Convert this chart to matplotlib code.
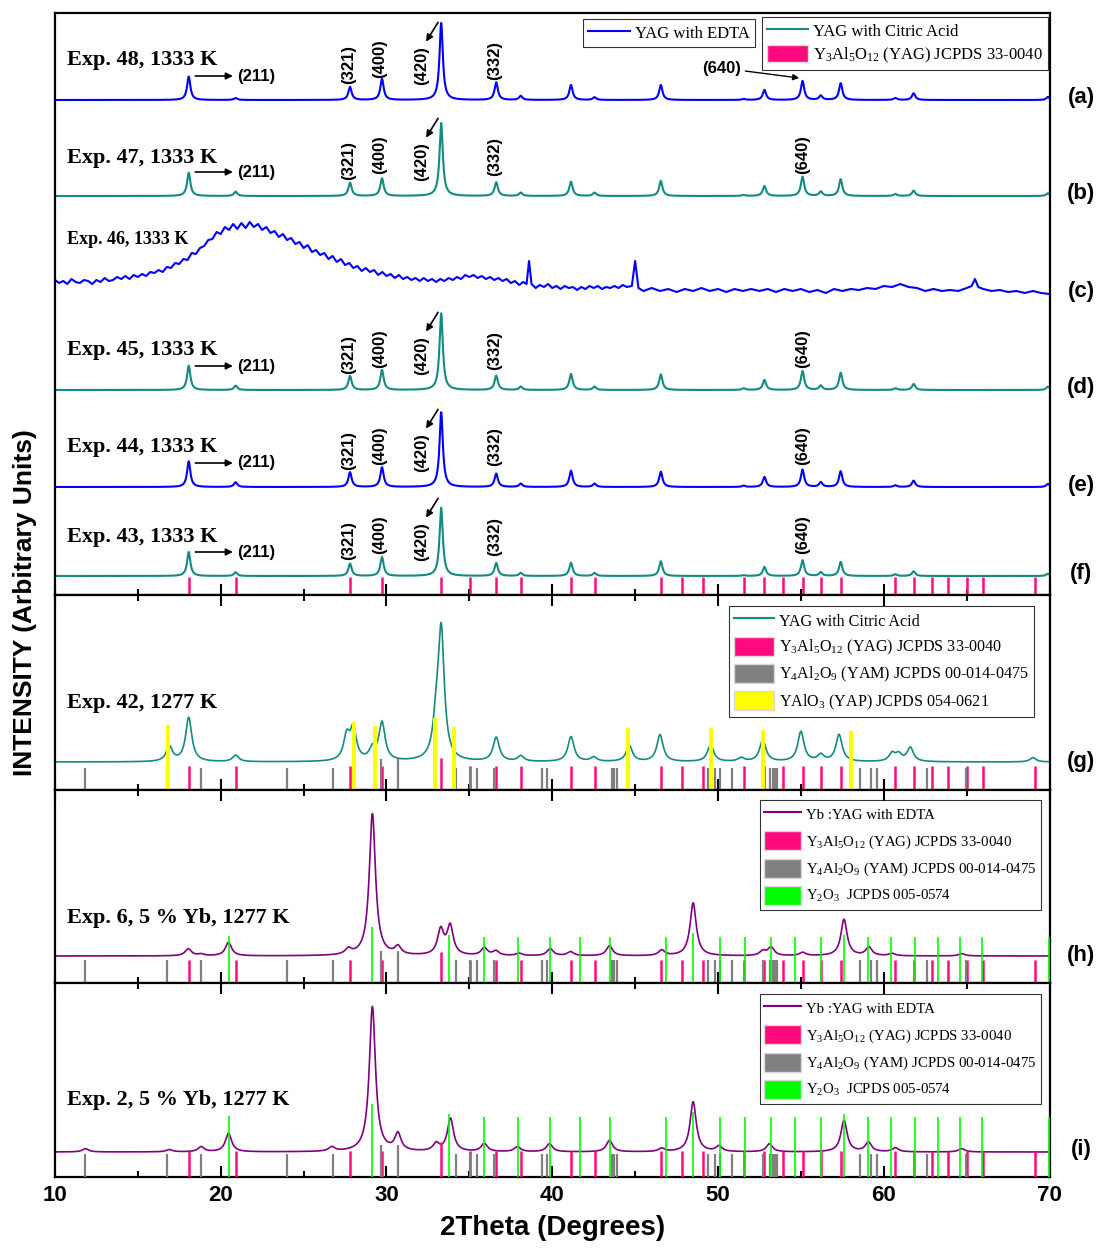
import matplotlib.pyplot as plt
import matplotlib.patches as mpatches
from matplotlib.lines import Line2D
from matplotlib.ticker import MultipleLocator
import numpy as np

plt.rcParams['font.family'] = ['Liberation Serif', 'DejaVu Serif']
plt.rcParams['mathtext.default'] = 'regular'

BLUE = '#0000FF'
TEAL = '#138A82'
PURPLE = '#800080'
PINK = '#FF0A7E'
GRAY = '#808080'
GREEN = '#00FF00'
YELLOW = '#FFFF00'
SANS = 'Liberation Sans'

# reference cards (2theta, degrees)
yag_ref = [18.07, 20.9, 27.8, 29.73, 33.3, 35.05, 36.62, 38.1, 41.15, 42.55, 46.55, 47.8, 49.1,
           51.55, 52.8, 53.9, 55.1, 56.2, 57.4, 60.7, 61.8, 62.9, 63.9, 65.0, 66.0, 69.1]
yag_rel = [1, 1, 1, 1, 1.35, 1, 1, 1, 1, 1, 1, 1, 1,
           1, 1, 1, 1, 1, 1, 1, 1, 1, 1, 1, 1, 1]
yam_ref = [11.84, 16.77, 18.82, 23.98, 26.75, 29.67, 30.69, 34.22, 35.03, 35.49, 36.51, 39.36, 39.68,
           43.6, 43.74, 43.88, 49.37, 49.8, 50.15, 50.87, 52.73, 53.13, 53.33, 53.43, 53.54,
           58.59, 59.2, 59.6, 62.6, 64.95]
yam_rel = [1, 1, 1, 1, 1, 1.4, 1.4, 1, 1, 1, 1, 1, 1,
           1, 1, 1, 1, 1, 1, 1, 1, 1, 1, 1, 1,
           1, 1, 1, 1, 1]
y2o3_ref = [20.47, 29.15, 33.8, 35.9, 37.92, 39.85, 41.7, 43.5, 46.85, 48.5, 50.1, 51.6, 53.2,
            54.65, 56.2, 57.6, 59.05, 60.45, 61.9, 63.25, 64.6, 65.95, 69.95]
y2o3_rel = [1.02, 1.22, 1.05, 1, 1, 1, 1, 1, 1, 1.08, 1, 1, 1,
            1, 1, 1.05, 1, 1, 1, 1, 1, 1, 1]
yap_ref = [16.81, 28.05, 29.3, 32.9, 34.05, 44.6, 49.58, 52.73, 58.0]
yap_height = [65, 68, 64, 72, 63, 62, 62, 60, 59]

# 1333 K samples: peak positions and heights
yag_peak_pos = [18.07, 20.9, 27.8, 29.73, 33.3, 36.62, 38.1, 41.13, 42.55, 46.55,
                51.55, 52.8, 55.1, 56.2, 57.4, 60.7, 61.8, 69.9]
exp48 = [23.5, 2.0, 13.0, 21.0, 77.0, 17.6, 4.0, 15.0, 2.7, 15.0, 1.0, 10.0, 19.0, 4.3, 16.7, 2.0, 6.7, 3.0]
exp47 = [23.3, 4.3, 13.3, 17.7, 73.0, 13.7, 3.3, 14.3, 3.3, 15.0, 1.0, 10.0, 19.3, 4.3, 16.7, 2.0, 5.3, 2.7]
exp45 = [24.3, 4.3, 14.0, 20.0, 76.7, 14.3, 3.3, 16.0, 3.3, 15.7, 1.7, 10.0, 19.0, 4.3, 17.3, 1.7, 6.0, 3.3]
exp44 = [25.7, 4.7, 14.7, 19.7, 74.7, 13.3, 3.3, 16.3, 3.3, 15.3, 1.3, 10.0, 17.3, 4.7, 15.7, 1.7, 6.3, 3.0]
exp43 = [24.0, 3.7, 12.3, 19.0, 68.3, 13.0, 3.0, 13.3, 3.0, 14.7, 0.7, 9.0, 15.7, 3.7, 14.0, 1.7, 4.7, 2.3]

# Exp. 46 (amorphous), read point by point: (2theta, counts above its baseline)
exp46_points = [
    (10.0, 10), (10.25, 7), (10.5, 9), (10.75, 6), (11.0, 11), (11.25, 8), (11.5, 7), (11.75, 10),
    (12.0, 9), (12.25, 6), (12.5, 10), (12.75, 8), (13.0, 12), (13.25, 9), (13.5, 10), (13.75, 13),
    (14.0, 11), (14.25, 14), (14.5, 11), (14.75, 15), (15.0, 13), (15.25, 16), (15.5, 14), (15.75, 18),
    (16.0, 17), (16.25, 20), (16.5, 18), (16.75, 23), (17.0, 22), (17.25, 27), (17.5, 26), (17.75, 31),
    (18.0, 30), (18.25, 37), (18.5, 36), (18.75, 42), (19.0, 44), (19.25, 50), (19.5, 51), (19.75, 58),
    (20.0, 56), (20.25, 63), (20.5, 60), (20.75, 66), (21.0, 61), (21.25, 67), (21.5, 62), (21.75, 68),
    (22.0, 63), (22.25, 66), (22.5, 60), (22.75, 63), (23.0, 57), (23.25, 59), (23.5, 53), (23.75, 56),
    (24.0, 50), (24.25, 52), (24.5, 46), (24.75, 48), (25.0, 42), (25.25, 45), (25.5, 38), (25.75, 40),
    (26.0, 35), (26.25, 37), (26.5, 31), (26.75, 34), (27.0, 28), (27.25, 31), (27.5, 25), (27.75, 27),
    (28.0, 22), (28.25, 24), (28.5, 19), (28.75, 22), (29.0, 18), (29.25, 20), (29.5, 15), (29.75, 18),
    (30.0, 14), (30.25, 16), (30.5, 12), (30.75, 15), (31.0, 11), (31.25, 13), (31.5, 10), (31.75, 12),
    (32.0, 9), (32.25, 12), (32.5, 9), (32.75, 11), (33.0, 8), (33.25, 11), (33.5, 9), (33.75, 12),
    (34.0, 10), (34.25, 13), (34.5, 11), (34.75, 15), (35.0, 13), (35.25, 15), (35.5, 12), (35.75, 14),
    (36.0, 11), (36.25, 13), (36.5, 10), (36.75, 12), (37.0, 9), (37.25, 11), (37.5, 7), (37.75, 9),
    (38.0, 5), (38.25, 8), (38.45, 6), (38.6, 29), (38.75, 6), (39.0, 2), (39.25, 5), (39.5, 3),
    (39.75, 6), (40.0, 2), (40.25, 4), (40.5, 1), (40.75, 4), (41.0, 2), (41.25, 3), (41.5, 0),
    (41.75, 3), (42.0, 1), (42.25, 4), (42.5, 2), (42.75, 4), (43.0, 1), (43.25, 3), (43.5, 2),
    (43.75, 4), (44.0, 2), (44.25, 5), (44.5, 3), (44.8, 4), (45.0, 29), (45.2, 2), (45.5, -1),
    (46.0, 2), (46.5, -1), (47.0, 1), (47.5, -2), (48.0, 1), (48.5, -1), (49.0, 2), (49.5, -1),
    (50.0, 1), (50.5, -2), (51.0, 1), (51.5, -1), (52.0, 1), (52.5, -1), (53.0, 1), (53.5, -2),
    (54.0, 1), (54.5, -1), (55.0, 1), (55.5, -2), (56.0, 0), (56.5, -3), (57.0, 1), (57.5, -1),
    (58.0, 1), (58.5, 0), (59.0, 2), (59.5, 1), (60.0, 4), (60.5, 3), (61.0, 6), (61.5, 3),
    (62.0, 2), (62.5, -1), (63.0, 1), (63.5, -1), (64.0, 0), (64.5, -1), (65.0, 2), (65.3, 4),
    (65.5, 11), (65.7, 3), (66.0, 1), (66.5, -1), (67.0, 0), (67.5, -2), (68.0, -1), (68.5, -3),
    (69.0, -1), (69.5, -3), (70.0, -4)]
exp46_2theta = [p[0] for p in exp46_points]
exp46_counts = [p[1] for p in exp46_points]

# Exp. 42, 1277 K
exp42_pos = [16.9, 18.07, 20.9, 27.6, 28.0, 29.15, 29.73, 33.0, 33.3, 36.62, 38.1, 41.13, 42.5,
             44.65, 46.5, 49.55, 51.4, 52.7, 55.0, 56.2, 57.3, 60.5, 60.9, 61.6, 69.0]
exp42_h = [15, 44, 6.5, 24, 31, 11, 38, 30, 128, 24, 5.5, 25, 4.3,
           16, 27, 17, 3.7, 22, 30, 6.5, 27, 8, 7, 14, 4.3]

# Exp. 6 and Exp. 2, 5 % Yb, 1277 K
exp6_pos = [18.04, 18.8, 20.47, 27.7, 29.15, 30.69, 33.27, 33.84, 35.9, 36.6, 38.0, 39.87, 41.1,
            43.45, 46.6, 48.5, 52.7, 53.2, 55.1, 57.6, 59.1, 60.5, 64.7]
exp6_h = [7, 1.7, 13.5, 5.5, 142, 8, 25, 29, 7.5, 4.5, 2.3, 7, 4,
          10, 5.5, 53, 4.5, 8.5, 3.3, 36.5, 8.5, 2.3, 2.3]
exp2_pos = [11.84, 16.9, 18.82, 20.47, 26.7, 29.15, 30.69, 33.0, 33.86, 35.9, 37.9, 39.83,
            43.45, 46.6, 48.5, 50.06, 53.1, 57.6, 59.07, 60.7, 64.7]
exp2_h = [3.3, 2.3, 5, 18.5, 4.3, 145, 17, 7.5, 33, 8, 5, 8,
          11.5, 3.3, 50, 5.5, 8, 31.5, 9.5, 4, 3.3]

hkl_labels = ['(321)', '(400)', '(420)', '(332)']
hkl_2theta = [27.73, 29.6, 32.1, 36.5]
hkl_dy = [36, 41, 34, 40]

x = np.linspace(10, 70, 6001)


def pattern(pos, heights, fwhm):
    g = fwhm / 2.0
    y = np.zeros_like(x)
    for p, h in zip(pos, heights):
        y += h / (1.0 + ((x - p) / g) ** 2)
    return y


def hkl_marks(ax, base, show_640_vertical=True):
    ax.annotate('', xy=(20.9, base + 24), xytext=(18.3, base + 24),
                arrowprops=dict(arrowstyle='-|>', color='black', lw=1.2, mutation_scale=10))
    ax.text(21.0, base + 24, '(211)', family=SANS, fontweight='bold', fontsize=12,
            ha='left', va='center')
    for lab, xx, dy in zip(hkl_labels, hkl_2theta, hkl_dy):
        ax.text(xx, base + dy, lab, family=SANS, fontweight='bold', fontsize=12,
                rotation=90, ha='center', va='center')
    ax.annotate('', xy=(32.3, base + 56), xytext=(33.2, base + 80),
                arrowprops=dict(arrowstyle='-|>', color='black', lw=1.2, mutation_scale=10))
    if show_640_vertical:
        ax.text(55.1, base + 41, '(640)', family=SANS, fontweight='bold', fontsize=12,
                rotation=90, ha='center', va='center')


def side_label(ax, y, lab):
    ax.text(1.032, y, lab, transform=ax.get_yaxis_transform(), family=SANS,
            fontweight='bold', fontsize=16, ha='center', va='center')


def style_axis(ax, top=True, labels=False):
    ax.set_xlim(10, 70)
    ax.xaxis.set_major_locator(MultipleLocator(10))
    ax.xaxis.set_minor_locator(MultipleLocator(5))
    ax.tick_params(axis='x', which='both', direction='in', top=top, bottom=True,
                   labelbottom=labels, width=1.5)
    ax.tick_params(axis='x', which='major', length=8)
    ax.tick_params(axis='x', which='minor', length=4)
    ax.set_yticks([])
    for s in ax.spines.values():
        s.set_linewidth(1.6)


def legend_box(ax, handles, labels, anchor, fontsize, spacing=0.3, hh=1.2):
    leg = ax.legend(handles, labels, loc='upper left', bbox_to_anchor=anchor, borderaxespad=0,
                    frameon=True, fancybox=False, edgecolor='black', fontsize=fontsize,
                    handlelength=2.5, handleheight=hh, handletextpad=0.3,
                    labelspacing=spacing, borderpad=0.3)
    leg.get_frame().set_linewidth(0.8)
    return leg


def patch(c):
    return mpatches.Patch(facecolor=c, edgecolor='#d8d8d8', linewidth=1)


yag_lab = 'Y$_3$Al$_5$O$_{12}$ (YAG) JCPDS 33-0040'
yam_lab = 'Y$_4$Al$_2$O$_9$ (YAM) JCPDS 00-014-0475'
yap_lab = 'YAlO$_3$ (YAP) JCPDS 054-0621'
y2o3_lab = 'Y$_2$O$_3$  JCPDS 005-0574'

fig = plt.figure(figsize=(10.99, 12.5), dpi=100)
gs = fig.add_gridspec(4, 1, height_ratios=[582, 195, 193, 194], hspace=0,
                      left=0.05, right=0.955, top=0.9896, bottom=0.0584)
ax0 = fig.add_subplot(gs[0])
ax1 = fig.add_subplot(gs[1])
ax2 = fig.add_subplot(gs[2])
ax3 = fig.add_subplot(gs[3])

# ---- top panel: (a)-(f) ----
ax0.set_ylim(0, 582)
traces = [(exp48, 495, BLUE, 'Exp. 48, 1333 K', 535, '(a)'),
          (exp47, 399, TEAL, 'Exp. 47, 1333 K', 437, '(b)'),
          (exp45, 205, TEAL, 'Exp. 45, 1333 K', 245, '(d)'),
          (exp44, 108, BLUE, 'Exp. 44, 1333 K', 148, '(e)'),
          (exp43, 19, TEAL, 'Exp. 43, 1333 K', 58, '(f)')]
for heights, base, col, name, ylab, side in traces:
    ax0.plot(x, base + pattern(yag_peak_pos, heights, 0.24), color=col, lw=1.5)
    ax0.text(10.72, ylab, name, fontweight='bold', fontsize=16, ha='left', va='center')
    side_label(ax0, base + 2, side)
    hkl_marks(ax0, base, show_640_vertical=(side != '(a)'))

ax0.plot(exp46_2theta, 305 + np.array(exp46_counts), color=BLUE, lw=1.5)
ax0.text(10.72, 355, 'Exp. 46, 1333 K', fontweight='bold', fontsize=13, ha='left', va='center')
side_label(ax0, 304, '(c)')

# (640) of Exp. 48 with its arrow
ax0.annotate('(640)', xy=(54.9, 495 + 22), xytext=(51.4, 495 + 32),
             family=SANS, fontweight='bold', fontsize=12, ha='right', va='center',
             arrowprops=dict(arrowstyle='-|>', color='black', lw=1.0, mutation_scale=9,
                             shrinkA=1, shrinkB=0))

ax0.vlines(yag_ref, 0, 18, colors=PINK, linewidth=1.8, zorder=3)
style_axis(ax0, top=False)

leg_a = legend_box(ax0, [Line2D([], [], color=BLUE, lw=1.5)], ['YAG with EDTA'],
                   (0.531, 0.99), 12)
ax0.add_artist(leg_a)
legend_box(ax0, [Line2D([], [], color=TEAL, lw=1.5), patch(PINK)],
           ['YAG with Citric Acid', yag_lab], (0.7106, 0.993), 12)

# ---- (g) Exp. 42 ----
ax1.set_ylim(0, 195)
ax1.plot(x, 28 + pattern(exp42_pos, exp42_h, 0.45), color=TEAL, lw=1.2, zorder=2)
ax1.vlines(yag_ref, 0, 24 * np.array(yag_rel), colors=PINK, linewidth=1.8, zorder=3)
ax1.vlines(yam_ref, 0, 22 * np.array(yam_rel), colors=GRAY, linewidth=1.6, zorder=3)
ax1.vlines(yap_ref, 0, yap_height, colors=YELLOW, linewidth=2.8, zorder=4)
ax1.text(10.72, 87, 'Exp. 42, 1277 K', fontweight='bold', fontsize=16, ha='left', va='center')
side_label(ax1, 28, '(g)')
style_axis(ax1)
legend_box(ax1, [Line2D([], [], color=TEAL, lw=1.5), patch(PINK), patch(GRAY), patch(YELLOW)],
           ['YAG with Citric Acid', yag_lab, yam_lab, yap_lab], (0.678, 0.944), 11.6,
           spacing=0.42, hh=1.45)

# ---- (h) Exp. 6 ----
ax2.set_ylim(0, 193)
ax2.plot(x, 27 + pattern(exp6_pos, exp6_h, 0.45), color=PURPLE, lw=1.2, zorder=2)
ax2.vlines(yag_ref, 0, 23 * np.array(yag_rel), colors=PINK, linewidth=1.8, zorder=3)
ax2.vlines(yam_ref, 0, 23 * np.array(yam_rel), colors=GRAY, linewidth=1.6, zorder=3)
ax2.vlines(y2o3_ref, 0, 46 * np.array(y2o3_rel), colors=GREEN, linewidth=1.2, zorder=4)
ax2.text(10.72, 65, 'Exp. 6, 5 % Yb, 1277 K', fontweight='bold', fontsize=16, ha='left', va='center')
side_label(ax2, 28, '(h)')
style_axis(ax2)
legend_box(ax2, [Line2D([], [], color=PURPLE, lw=1.5), patch(PINK), patch(GRAY), patch(GREEN)],
           ['Yb :YAG with EDTA', yag_lab, yam_lab, y2o3_lab], (0.7085, 0.948), 10.7,
           spacing=0.52, hh=1.6)

# ---- (i) Exp. 2 ----
ax3.set_ylim(0, 194)
ax3.plot(x, 25 + pattern(exp2_pos, exp2_h, 0.45), color=PURPLE, lw=1.2, zorder=2)
ax3.vlines(yag_ref, 0, 26 * np.array(yag_rel), colors=PINK, linewidth=1.8, zorder=3)
ax3.vlines(yam_ref, 0, 23 * np.array(yam_rel), colors=GRAY, linewidth=1.6, zorder=3)
ax3.vlines(y2o3_ref, 0, 60 * np.array(y2o3_rel), colors=GREEN, linewidth=1.2, zorder=4)
ax3.text(10.72, 77, 'Exp. 2, 5 % Yb, 1277 K', fontweight='bold', fontsize=16, ha='left', va='center')
side_label(ax3, 27, '(i)')
style_axis(ax3, labels=True)
legend_box(ax3, [Line2D([], [], color=PURPLE, lw=1.5), patch(PINK), patch(GRAY), patch(GREEN)],
           ['Yb :YAG with EDTA', yag_lab, yam_lab, y2o3_lab], (0.7085, 0.943), 10.7,
           spacing=0.52, hh=1.6)

for lab in ax3.get_xticklabels():
    lab.set_family(SANS)
    lab.set_fontweight('bold')
    lab.set_fontsize(16)
ax3.tick_params(axis='x', pad=6)
ax3.set_xlabel('2Theta (Degrees)', family=SANS, fontweight='bold', fontsize=20, labelpad=6)

fig.text(0.0227, 0.518, 'INTENSITY (Arbitrary Units)', rotation=90, family=SANS,
         fontweight='bold', fontsize=19, ha='center', va='center')

fig.savefig('out.png', dpi=100)
